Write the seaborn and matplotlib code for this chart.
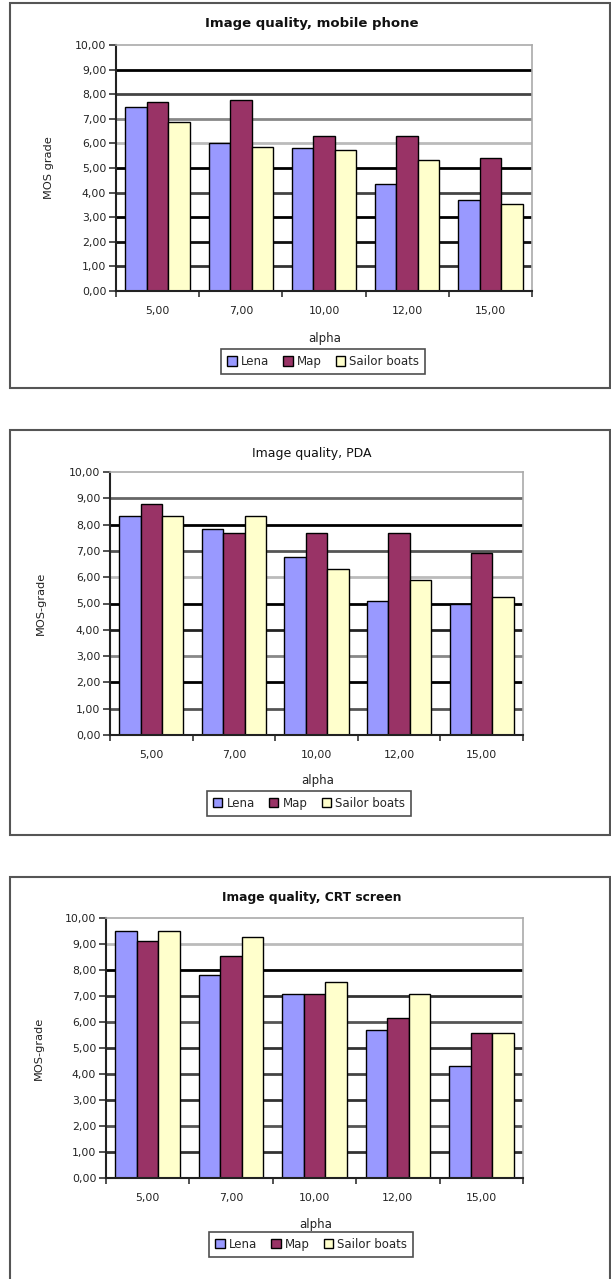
import matplotlib
matplotlib.use("Agg")
import matplotlib.pyplot as plt
import seaborn as sns
import pandas as pd
from matplotlib.patches import Rectangle, Patch

sns.set_theme(style="white")
plt.rcParams['font.family'] = ['DejaVu Sans']

# ---- data ----
alpha_labels = ["5,00", "7,00", "10,00", "12,00", "15,00"]
series_names = ["Lena", "Map", "Sailor boats"]

mobile_lena = [7.49, 6.00, 5.81, 4.33, 3.69]
mobile_map = [7.69, 7.77, 6.30, 6.30, 5.39]
mobile_sailor = [6.85, 5.86, 5.73, 5.32, 3.54]

pda_lena = [8.32, 7.84, 6.75, 5.09, 4.97]
pda_map = [8.78, 7.68, 7.68, 7.68, 6.92]
pda_sailor = [8.32, 8.32, 6.30, 5.89, 5.24]

crt_lena = [9.49, 7.79, 7.09, 5.68, 4.29]
crt_map = [9.10, 8.53, 7.09, 6.14, 5.59]
crt_sailor = [9.49, 9.26, 7.55, 7.09, 5.59]

ytick_values = [0, 1, 2, 3, 4, 5, 6, 7, 8, 9, 10]
ytick_labels = ["0,00", "1,00", "2,00", "3,00", "4,00", "5,00", "6,00",
                "7,00", "8,00", "9,00", "10,00"]

titles = ["Image quality, mobile phone", "Image quality, PDA", "Image quality, CRT screen"]
title_weights = ["bold", "normal", "bold"]
title_sizes = [9.5, 9, 8.8]
ylabels = ["MOS grade", "MOS-grade", "MOS-grade"]

colors = ["#9999FF", "#993366", "#FFFFCC"]

W, H = 611, 1279
fig = plt.figure(figsize=(W / 100, H / 100), dpi=100)


def fx(px):
    return px / W


def fy(py):
    return 1 - py / H


panels = [
    dict(l=116, r=532, t=45, b=291, bt=3, bb=388, ty=23, leg=(0.498, -0.287), xl=-0.167, yl=-0.150,
         grid=["#333333", "#111111", "#000000", "#444444", "#000000", "#bbbbbb", "#888888", "#444444", "#000000"],
         data=(mobile_lena, mobile_map, mobile_sailor)),
    dict(l=110, r=523, t=472, b=735, bt=430, bb=835, ty=453, leg=(0.482, -0.259), xl=-0.150, yl=-0.155,
         grid=["#555555", "#000000", "#888888", "#222222", "#000000", "#bbbbbb", "#555555", "#000000", "#666666"],
         data=(pda_lena, pda_map, pda_sailor)),
    dict(l=106, r=523, t=918, b=1178, bt=877, bb=1290, ty=898, leg=(0.492, -0.256), xl=-0.155, yl=-0.149,
         grid=["#333333", "#555555", "#333333", "#444444", "#333333", "#555555", "#333333", "#000000", "#bbbbbb"],
         data=(crt_lena, crt_map, crt_sailor)),
]

for i, p in enumerate(panels):
    fig.patches.append(Rectangle((fx(10), fy(p["bb"])), fx(600), (p["bb"] - p["bt"]) / H,
                                 transform=fig.transFigure, fill=False,
                                 edgecolor="#555555", linewidth=1.5))
    ax = fig.add_axes([fx(p["l"]), fy(p["b"]), fx(p["r"] - p["l"]), (p["b"] - p["t"]) / H])

    lena, mp, sailor = p["data"]
    df = pd.DataFrame({
        "alpha": alpha_labels * 3,
        "series": [series_names[0]] * 5 + [series_names[1]] * 5 + [series_names[2]] * 5,
        "value": list(lena) + list(mp) + list(sailor),
    })

    for v, c in zip(range(1, 10), p["grid"]):
        ax.axhline(v, color=c, linewidth=2.0, zorder=0)

    sns.barplot(data=df, x="alpha", y="value", hue="series", order=alpha_labels,
                hue_order=series_names, palette=colors, width=0.775,
                edgecolor="black", linewidth=1.0, saturation=1, ax=ax,
                legend=False, zorder=2)

    ax.set_xlim(-0.5, 4.5)
    ax.set_ylim(0, 10)
    ax.set_yticks(ytick_values)
    ax.set_yticklabels(ytick_labels)
    ax.tick_params(axis="y", direction="out", length=5, width=1.2, color="#333333",
                   labelsize=7.8, pad=2, labelcolor="#222222", left=True)
    ax.set_xticks(range(5))
    ax.set_xticklabels(alpha_labels)
    ax.set_xticks([-0.5, 0.5, 1.5, 2.5, 3.5, 4.5], minor=True)
    ax.tick_params(axis="x", which="major", length=0, labelsize=7.8, pad=11, labelcolor="#222222")
    ax.tick_params(axis="x", which="minor", direction="out", length=4, width=1.2,
                   color="#333333", bottom=True)

    for side in ["top", "right"]:
        ax.spines[side].set_color("#aaaaaa")
        ax.spines[side].set_linewidth(1.2)
    for side in ["left", "bottom"]:
        ax.spines[side].set_color("#222222")
        ax.spines[side].set_linewidth(1.5)

    ax.set_xlabel("alpha", fontsize=8.5, color="#222222")
    ax.xaxis.set_label_coords(0.502, p["xl"])
    ax.set_ylabel(ylabels[i], fontsize=8.2, color="#222222")
    ax.yaxis.set_label_coords(p["yl"], 0.5)
    ax.set_facecolor("white")

    fig.text(fx(312), fy(p["ty"]), titles[i], ha="center", va="center",
             fontsize=title_sizes[i], fontweight=title_weights[i], color="#111111")

    handles = [Patch(facecolor=c, edgecolor="black", linewidth=1.0) for c in colors]
    leg = ax.legend(handles, series_names, ncol=3, loc="center",
                    bbox_to_anchor=p["leg"], frameon=True, fontsize=8.5,
                    handlelength=0.8, handleheight=0.8, handletextpad=0.35,
                    columnspacing=1.2, borderpad=0.5, fancybox=False)
    leg.get_frame().set_edgecolor("#222222")
    leg.get_frame().set_linewidth(1.2)

fig.savefig("out.png", dpi=100, facecolor="white")
